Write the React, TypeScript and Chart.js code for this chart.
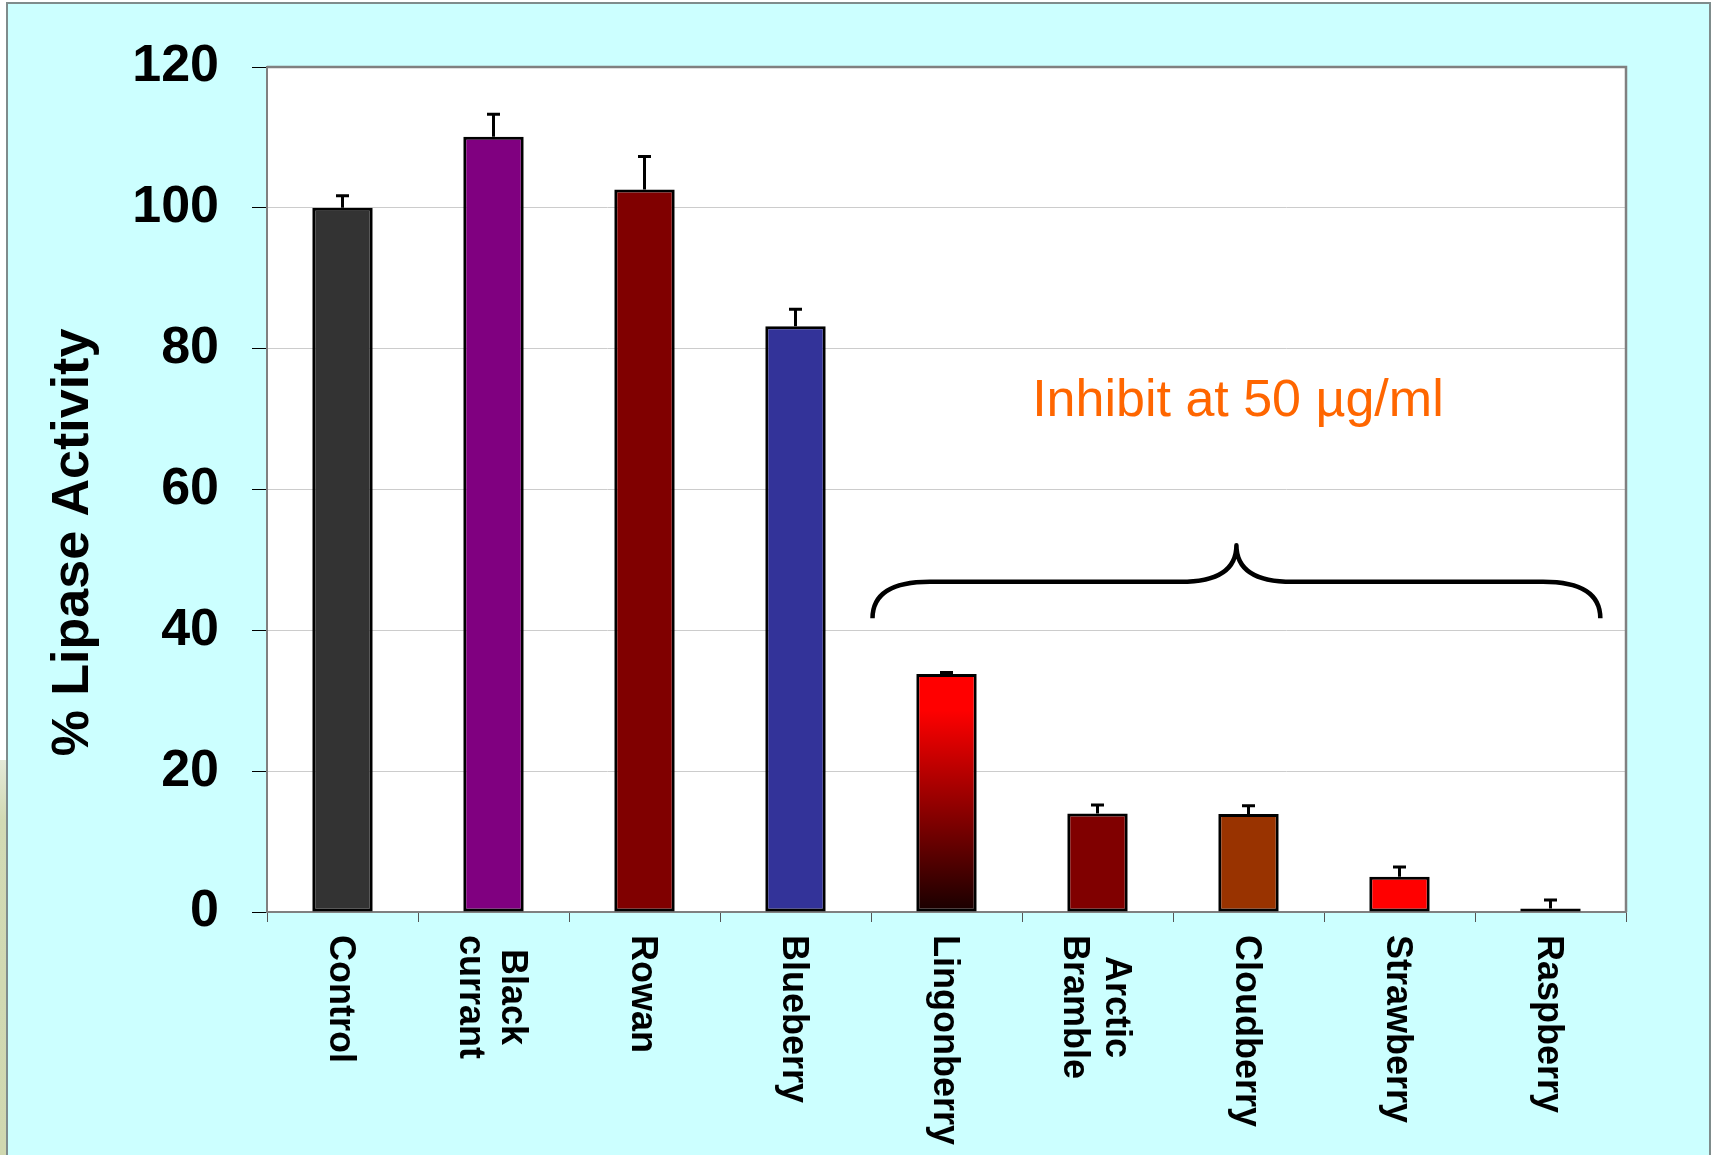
import React, { useEffect, useRef } from 'react';
import { Chart, registerables } from 'chart.js';

Chart.register(...registerables);

// ---- data ----
const categories: string[][] = [
  ['Control'],
  ['Black', 'currant'],
  ['Rowan'],
  ['Blueberry'],
  ['Lingonberry'],
  ['Arctic', 'Bramble'],
  ['Cloudberry'],
  ['Strawberry'],
  ['Raspberry'],
];
const lipaseActivity = [100, 110.1, 102.6, 83.2, 33.8, 14.0, 13.9, 5.0, 0.5];
const errorPlus = [1.7, 3.2, 4.7, 2.4, 0.2, 1.2, 1.2, 1.4, 1.2];
const barColors = ['#333333', '#800080', '#800000', '#333399', '#FF0000', '#800000', '#993300', '#FF0000', '#800000'];
const gradientBarIndex = 4;
const yTicks = [0, 20, 40, 60, 80, 100, 120];
const yTitle = '% Lipase Activity';
const noteText = 'Inhibit at 50 \u00B5g/ml';
const notePosition = [5.93, 70.4]; // [category position, value]
const braceXs = [3.51, 3.89, 5.55, 5.92, 6.29, 7.95, 8.33];
const braceYs = [41.7, 46.9, 52.1]; // ends, flat, peak

const FONT = '"Liberation Sans", Arial, Helvetica, sans-serif';

const decorPlugin = {
  id: 'decor',
  beforeDraw(chart: any) {
    const { ctx, width, height, chartArea } = chart;
    ctx.save();
    ctx.fillStyle = '#FFFFFF';
    ctx.fillRect(0, 0, width, height);
    const g = ctx.createLinearGradient(0, 760, 0, height);
    g.addColorStop(0, '#E4EAD8');
    g.addColorStop(0.15, '#D2DAB4');
    g.addColorStop(1, '#D0D8B0');
    ctx.fillStyle = g;
    ctx.fillRect(0, 760, 8, height - 760);
    ctx.fillStyle = '#CCFFFF';
    ctx.fillRect(7, 3, width - 8, height - 3);
    ctx.strokeStyle = '#7F8C8C';
    ctx.lineWidth = 2;
    ctx.beginPath();
    ctx.moveTo(7, height);
    ctx.lineTo(7, 3);
    ctx.lineTo(width - 1, 3);
    ctx.lineTo(width - 1, height);
    ctx.stroke();
    ctx.fillStyle = '#FFFFFF';
    ctx.fillRect(chartArea.left, chartArea.top, chartArea.right - chartArea.left, chartArea.bottom - chartArea.top);
    ctx.restore();
  },
  afterDatasetsDraw(chart: any) {
    const { ctx, chartArea } = chart;
    const xs = chart.scales.x;
    const ys = chart.scales.y;
    ctx.save();
    // plot frame top/right
    ctx.strokeStyle = '#808080';
    ctx.lineWidth = 2.5;
    ctx.beginPath();
    ctx.moveTo(chartArea.left, chartArea.top);
    ctx.lineTo(chartArea.right, chartArea.top);
    ctx.lineTo(chartArea.right, chartArea.bottom);
    ctx.stroke();

    // error bars (plus direction)
    const meta = chart.getDatasetMeta(0);
    ctx.strokeStyle = '#000000';
    ctx.lineWidth = 3;
    meta.data.forEach((bar: any, i: number) => {
      const x = bar.x;
      const yv = ys.getPixelForValue(lipaseActivity[i]);
      const ye = ys.getPixelForValue(lipaseActivity[i] + errorPlus[i]);
      ctx.beginPath();
      ctx.moveTo(x, yv);
      ctx.lineTo(x, ye);
      ctx.moveTo(x - 6.5, ye);
      ctx.lineTo(x + 6.5, ye);
      ctx.stroke();
    });

    // brace
    const px = braceXs.map((v) => xs.getPixelForValue(v));
    const yEnd = ys.getPixelForValue(braceYs[0]);
    const yFlat = ys.getPixelForValue(braceYs[1]);
    const yPeak = ys.getPixelForValue(braceYs[2]);
    ctx.lineWidth = 4.5;
    ctx.lineJoin = 'round';
    ctx.lineCap = 'butt';
    ctx.beginPath();
    ctx.moveTo(px[0], yEnd);
    ctx.quadraticCurveTo(px[0], yFlat, px[1], yFlat);
    ctx.lineTo(px[2], yFlat);
    ctx.quadraticCurveTo(px[3], yFlat, px[3], yPeak);
    ctx.quadraticCurveTo(px[3], yFlat, px[4], yFlat);
    ctx.lineTo(px[5], yFlat);
    ctx.quadraticCurveTo(px[6], yFlat, px[6], yEnd);
    ctx.stroke();

    // note text
    ctx.fillStyle = '#FF6600';
    ctx.font = `52px ${FONT}`;
    ctx.textAlign = 'center';
    ctx.textBaseline = 'alphabetic';
    ctx.fillText(noteText, xs.getPixelForValue(notePosition[0]), ys.getPixelForValue(notePosition[1]));
    ctx.restore();
  },
  afterDraw(chart: any) {
    const { ctx } = chart;
    const xs = chart.scales.x;
    ctx.save();
    ctx.fillStyle = '#000000';
    // x category labels, rotated clockwise, reading top to bottom
    ctx.font = `bold 36px ${FONT}`;
    ctx.textAlign = 'center';
    ctx.textBaseline = 'alphabetic';
    const lineH = 42;
    const startY = xs.top + 23;
    categories.forEach((lines, i) => {
      const cx = xs.getPixelForValue(i);
      const maxW = Math.max(...lines.map((l) => ctx.measureText(l).width));
      ctx.save();
      ctx.translate(cx, startY);
      ctx.rotate(Math.PI / 2);
      lines.forEach((l, j) => {
        const ly = 12.5 + (j - (lines.length - 1) / 2) * lineH;
        ctx.fillText(l, maxW / 2, ly);
      });
      ctx.restore();
    });
    // y title
    ctx.font = `bold 52px ${FONT}`;
    ctx.save();
    ctx.translate(88, 542.5);
    ctx.rotate(-Math.PI / 2);
    ctx.fillText(yTitle, 0, 0);
    ctx.restore();
    ctx.restore();
  },
};

export default function App() {
  const ref = useRef<HTMLCanvasElement | null>(null);
  useEffect(() => {
    if (!ref.current) return;
    const chart = new Chart(ref.current, {
      type: 'bar',
      data: {
        labels: categories,
        datasets: [
          {
            data: lipaseActivity,
            backgroundColor: (c: any) => {
              const i = c.dataIndex;
              if (i === gradientBarIndex && c.chart.chartArea && c.chart.scales.y) {
                const ys = c.chart.scales.y;
                const top = ys.getPixelForValue(lipaseActivity[i]);
                const bot = ys.getPixelForValue(0);
                const g = c.chart.ctx.createLinearGradient(0, top, 0, bot);
                g.addColorStop(0, '#FF0000');
                g.addColorStop(0.15, '#FF0000');
                g.addColorStop(1, '#180000');
                return g;
              }
              return barColors[i];
            },
            borderColor: '#000000',
            borderWidth: 3,
            borderSkipped: false,
            barPercentage: 0.4,
            categoryPercentage: 1,
          },
        ],
      },
      options: {
        responsive: false,
        animation: false,
        events: [],
        layout: { padding: { top: 67, right: 85, left: 0, bottom: 0 } },
        plugins: { legend: { display: false }, tooltip: { enabled: false }, title: { display: false } },
        scales: {
          x: {
            type: 'category',
            offset: true,
            grid: { offset: true, drawOnChartArea: false, drawTicks: true, tickLength: 10, color: '#555555', lineWidth: 1 },
            border: { display: true, color: '#808080', width: 2 },
            ticks: { display: false },
            afterFit: (s: any) => {
              s.height = 243;
            },
          },
          y: {
            min: 0,
            max: 120,
            afterBuildTicks: (s: any) => {
              s.ticks = yTicks.map((v) => ({ value: v }));
            },
            grid: { color: '#CCCCCC', lineWidth: 1, tickColor: '#000000', tickLength: 15, drawTicks: true },
            border: { display: true, color: '#808080', width: 2 },
            ticks: {
              color: '#000000',
              padding: 33,
              font: { family: FONT, size: 52, weight: 'bold' },
            },
            afterFit: (s: any) => {
              s.width = 267;
            },
          },
        },
      },
      plugins: [decorPlugin],
    } as any);
    return () => chart.destroy();
  }, []);
  return (
    <div style={{ position: 'fixed', left: 0, top: 0, width: 1711, height: 1155 }}>
      <canvas ref={ref} width={1711} height={1155} style={{ display: 'block' }} />
    </div>
  );
}
